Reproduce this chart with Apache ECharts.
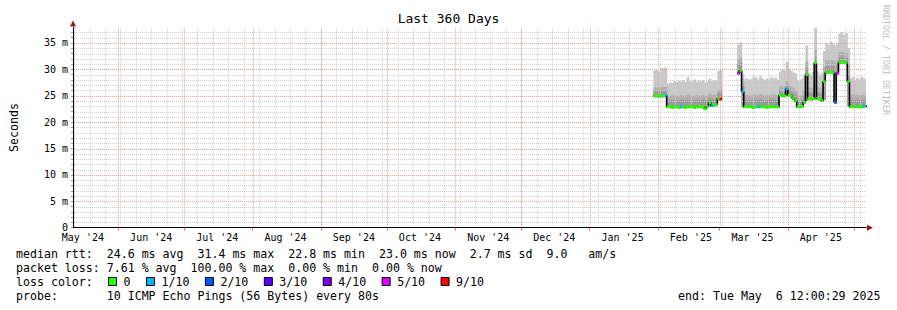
<!DOCTYPE html>
<html><head><meta charset="utf-8">
<script src="https://cdn.jsdelivr.net/npm/echarts@6/dist/echarts.min.js"></script>
<style>html,body{margin:0;padding:0;background:#fff}#c{width:897px;height:310px}</style>
</head><body><div id="c"></div>
<script>
// ---------------- data ----------------
const firstDay = '2025-01-30';          // one value per day from here
const median = [
 25.0,25.0,24.9,25.0,25.0,25.1,
 22.9,22.9,22.8,22.9,22.9,22.8,22.9,22.9,22.8,22.9,
 22.9,22.9,22.8,22.9,22.9,22.9,22.9,22.5,22.9,23.7,
 23.1,23.2,23.3,24.4,24.4,
 null,null,null,null,null,null,null,
 29.3,29.8,25.8,
 22.9,23.0,22.9,22.9,22.8,22.9,22.9,23.0,22.9,22.9,
 22.8,22.9,22.9,23.0,22.9,22.9,
 25.1,25.0,25.0,26.3,25.1,25.0,24.5,24.1,
 22.9,22.9,23.0,23.8,29.0,24.5,24.4,24.5,31.2,24.5,
 24.4,24.1,27.7,29.4,29.4,29.5,29.4,23.8,29.3,31.3,
 31.4,31.4,31.3,27.7,22.9,22.9,23.0,22.9,22.9,22.9,
 23.0,23.0
];
const lossTenths = [
 0,0,0,0,0,1,
 0,0,0,0,0,0,1,0,0,0,
 0,0,0,0,0,0,0,0,0,0,
 1,0,0,0,9,
 null,null,null,null,null,null,null,
 5,0,1,
 0,0,0,0,0,0,1,0,0,0,
 0,0,0,0,0,0,
 0,0,0,1,0,0,0,0,
 0,0,0,0,0,0,0,0,0,0,
 0,0,0,0,0,0,0,2,5,0,
 0,0,0,0,0,0,0,0,0,0,
 1,0
];
const smokeLo = [
 24.7,24.7,24.6,24.7,24.7,24.8,
 22.7,22.7,22.6,22.7,22.7,22.6,22.7,22.7,22.6,22.7,
 22.7,22.7,22.6,22.7,22.7,22.7,22.7,22.3,22.7,23.4,
 22.9,23.0,23.1,24.1,24.1,
 null,null,null,null,null,null,null,
 29.0,29.4,22.8,
 22.7,22.8,22.7,22.7,22.6,22.7,22.7,22.8,22.7,22.7,
 22.6,22.7,22.7,22.8,22.7,22.7,
 24.8,24.7,24.7,25.0,24.8,24.7,24.2,23.8,
 22.7,22.7,22.8,23.5,24.0,24.2,24.1,24.2,24.3,24.2,
 24.1,23.8,24.2,29.1,29.1,29.2,29.1,23.5,29.0,31.0,
 31.1,31.1,31.0,23.0,22.7,22.7,22.8,22.7,22.7,22.7,
 22.8,22.8
];
const smokeDark = [
 25.9,25.8,25.8,25.9,25.8,26.0,
 24.2,24.1,24.2,24.3,24.2,24.1,24.3,24.2,24.1,24.3,
 24.2,24.2,24.1,24.3,24.2,24.2,24.3,24.0,24.2,24.6,
 24.3,24.4,24.5,25.5,25.6,
 null,null,null,null,null,null,null,
 31.0,31.2,27.0,
 24.2,24.3,24.1,24.2,24.3,24.2,24.2,24.4,24.2,24.1,
 24.2,24.3,24.2,24.4,24.2,24.1,
 26.0,25.9,25.9,26.9,26.0,25.9,25.5,25.2,
 24.1,24.0,24.2,25.0,30.2,25.6,25.5,25.6,32.2,25.7,
 25.5,25.2,29.0,30.7,30.6,30.8,30.6,29.5,31.0,32.3,
 32.4,32.3,32.2,29.0,24.2,24.3,24.2,24.3,24.2,24.3,
 24.2,24.1
];
const smokeMid = [
 26.6,26.5,26.6,26.7,26.6,26.7,
 25.0,24.9,25.1,25.0,25.0,24.9,25.1,25.0,24.9,25.2,
 25.0,25.0,24.9,25.1,25.0,25.0,25.1,24.9,25.0,25.4,
 25.1,25.2,25.3,26.0,26.2,
 null,null,null,null,null,null,null,
 32.0,32.2,28.3,
 25.1,25.2,25.0,25.1,25.3,25.1,25.1,25.3,25.1,25.0,
 25.1,25.2,25.1,25.3,25.1,25.0,
 26.8,26.7,26.8,27.8,26.9,26.7,26.4,26.1,
 25.0,24.9,25.1,26.0,31.5,26.5,26.4,26.5,33.8,26.6,
 26.4,26.2,30.5,31.8,31.7,31.9,31.7,31.2,32.0,33.2,
 33.3,33.2,33.1,31.0,25.1,25.2,25.1,25.2,25.1,25.2,
 25.1,25.0
];
const smokeMax = [
 29.8,29.9,29.6,30.3,30.1,30.4,
 27.3,27.5,27.4,27.8,27.6,27.9,27.7,28.0,27.6,28.5,
 27.8,27.7,28.1,27.6,27.9,27.7,28.0,27.5,27.8,28.2,
 27.7,28.0,27.9,29.7,29.9,
 null,null,null,null,null,null,null,
 34.6,35.1,29.2,
 28.1,28.3,28.0,28.2,28.6,28.4,28.1,28.7,28.2,28.0,
 28.3,28.1,28.5,28.2,28.4,28.0,
 29.6,30.0,29.8,31.4,30.1,29.7,29.4,29.2,
 28.0,27.8,28.2,28.8,34.5,29.3,29.0,29.5,37.9,29.6,
 29.0,29.3,33.5,35.0,34.6,35.3,34.8,34.5,35.0,36.8,
 37.1,36.5,36.9,34.0,28.2,28.5,28.0,28.4,28.1,28.6,
 28.3,28.0
];
const monthLabels = ["May '24","Jun '24","Jul '24","Aug '24","Sep '24","Oct '24","Nov '24","Dec '24","Jan '25","Feb '25","Mar '25","Apr '25"];
const monthLabelDates = ['2024-05-16','2024-06-16','2024-07-16','2024-08-16','2024-09-16','2024-10-16','2024-11-16','2024-12-16','2025-01-16','2025-02-16','2025-03-16','2025-04-16'];
const yTickValues = [0,5,10,15,20,25,30,35];
const yTickLabels = ['0','5 m','10 m','15 m','20 m','25 m','30 m','35 m'];
const lossLabels = ['0','1/10','2/10','3/10','4/10','5/10','9/10'];
const lossLevels = [0,1,2,3,4,5,9];
const lossColors = ['#26ff00','#00b8ff','#0059ff','#5e00ff','#7e00ff','#dd00ff','#ff0000'];
const statLines = [
 'median rtt:  24.6 ms avg  31.4 ms max  22.8 ms min  23.0 ms now  2.7 ms sd  9.0   am/s',
 'packet loss: 7.61 % avg  100.00 % max  0.00 % min  0.00 % now',
 'loss color:',
 'probe:       10 ICMP Echo Pings (56 Bytes) every 80s'
];
const endText = 'end: Tue May  6 12:00:29 2025';
const titleText = 'Last 360 Days';
const yName = 'Seconds';
const creditText = 'RRDTOOL / TOBI OETIKER';

// ---------------- build ----------------
const DAY = 86400000;
const START = Date.UTC(2024,4,11,12,0,29);
const END = Date.UTC(2025,4,6,12,0,29);
const FIRST = new Date(firstDay+'T00:00:00Z').getTime();
const YMAX = 37.95;
const dayTs = k => FIRST + k*DAY;
const labelTs = monthLabelDates.map(s => new Date(s+'T00:00:00Z').getTime());
const monthStarts = [];
for (let i=1;i<=12;i++) monthStarts.push(Date.UTC(2024,4+i,1));
const weekLines = [];
for (let t=Date.UTC(2024,4,12); t<END; t+=7*DAY) weekLines.push(t);
const yMinorLines = [], yMajorLines = [];
for (let v=1; v<YMAX; v++) (v%5===0 ? yMajorLines : yMinorLines).push(v);

const FONT = '"DejaVu Sans Mono", monospace';
const nb = s => s.replace(/ /g,'\u00a0');
const MINOR = '#cfcfcf', MAJOR = '#eaa0a0';

function bandData(top){
  const d=[];
  for(let k=0;k<median.length;k++) if(median[k]!=null) d.push([dayTs(k), smokeLo[k], top[k]]);
  return d;
}
function rectItem(color){
  return function(params, api){
    const t=api.value(0), lo=api.value(1), hi=api.value(2);
    const p1=api.coord([t,hi]), p2=api.coord([t+DAY,lo]);
    return {type:'rect', shape:{x:p1[0], y:p1[1], width:p2[0]-p1[0]+0.6, height:p2[1]-p1[1]}, style:{fill:color}};
  };
}
const blackData=[];
for(let k=0;k<median.length;k++){
  if(median[k]==null) continue;
  blackData.push([dayTs(k), median[k]]);
  if(k===median.length-1 || median[k+1]==null){
    blackData.push([dayTs(k+1), median[k]]);
    blackData.push([dayTs(k+1)+1, null]);
  }
}
function vGridSeries(data, color){
  return {type:'custom', silent:true, z:3, data:data.map(t=>[t]), encode:{x:0},
    renderItem:function(params, api){
      const a=api.coord([api.value(0),0]), b=api.coord([api.value(0),YMAX]);
      const x=Math.round(a[0])+0.5;
      return {type:'line', shape:{x1:x,y1:a[1],x2:x,y2:b[1]}, style:{stroke:color, lineWidth:1, lineDash:[1,1]}};
    }};
}
function hGridSeries(data, color){
  return {type:'custom', silent:true, z:3, data:data.map(v=>[START, v]), encode:{x:0,y:1},
    renderItem:function(params, api){
      const a=api.coord([START, api.value(1)]), b=api.coord([END, api.value(1)]);
      const y=Math.round(a[1])+0.5;
      return {type:'line', shape:{x1:a[0]+1,y1:y,x2:b[0],y2:y}, style:{stroke:color, lineWidth:1, lineDash:[1,1]}};
    }};
}

const series = [
  {name:'smoke1', type:'custom', z:2, clip:true, silent:true, data:bandData(smokeMax), encode:{x:0,y:[1,2]}, renderItem:rectItem('#c8c8c8')},
  {name:'smoke2', type:'custom', z:2, clip:true, silent:true, data:bandData(smokeMid), encode:{x:0,y:[1,2]}, renderItem:rectItem('#b0b0b0')},
  {name:'smoke3', type:'custom', z:2, clip:true, silent:true, data:bandData(smokeDark), encode:{x:0,y:[1,2]}, renderItem:rectItem('#9a9a9a')},
  vGridSeries(weekLines, MINOR),
  hGridSeries(yMinorLines, MINOR),
  vGridSeries(monthStarts, MAJOR),
  hGridSeries(yMajorLines, MAJOR),
  {name:'median', type:'line', z:4, step:'end', symbol:'none', silent:true, data:blackData, connectNulls:false,
   lineStyle:{color:'#000', width:1.6}},
];
lossLabels.forEach((lab, i) => {
  const d=[];
  for(let k=0;k<median.length;k++) if(median[k]!=null && lossTenths[k]===lossLevels[i]) d.push([dayTs(k), median[k]]);
  series.push({name:lab, type:'custom', z:5, clip:true, silent:true, color:lossColors[i], itemStyle:{color:lossColors[i]},
    data:d, encode:{x:0,y:1},
    renderItem:function(params, api){
      const p1=api.coord([api.value(0), api.value(1)]), p2=api.coord([api.value(0)+DAY, api.value(1)]);
      return {type:'rect', shape:{x:p1[0], y:p1[1]-1.3, width:p2[0]-p1[0]+0.4, height:2.6}, style:{fill:lossColors[i]}};
    }});
});

const graphic = [];
statLines.forEach((s,i)=>{
  graphic.push({type:'text', silent:true, style:{text:nb(s), x:16, y:254.3+14*i, verticalAlign:'middle', align:'left', font:'11.6px '+FONT, fill:'#000'}});
});
graphic.push({type:'text', silent:true, style:{text:nb(endText), x:880.5, y:296.3, verticalAlign:'middle', align:'right', font:'11.6px '+FONT, fill:'#000'}});
graphic.push({type:'text', silent:true, x:886, y:60, rotation:-Math.PI/2, style:{text:creditText, align:'center', verticalAlign:'middle', font:'8.3px '+FONT, fill:'#c0c0c0'}});

const chart = echarts.init(document.getElementById('c'), null, {renderer:'svg'});
chart.setOption({
  animation:false,
  backgroundColor:'#fff',
  title:{text:titleText, left:'center', top:12, padding:0, textStyle:{fontFamily:FONT, fontSize:13, fontWeight:'normal', color:'#000'}},
  grid:{left:66, right:31, top:27.4, bottom:82.3, containLabel:false},
  legend:{data:lossLabels, left:108, top:275.5, padding:0, itemWidth:8, itemHeight:8, itemGap:15.5, icon:'rect', selectedMode:false,
    itemStyle:{borderColor:'#000', borderWidth:1},
    textStyle:{fontFamily:FONT, fontSize:11.6, color:'#000', padding:[0,0,0,2]}},
  xAxis:[
    {type:'value', min:START, max:END, z:6,
     axisLine:{show:true, onZero:false, lineStyle:{color:'#000', width:1}},
     axisTick:{show:true, customValues:monthStarts, length:3, lineStyle:{color:'#e07070'}},
     axisLabel:{customValues:labelTs, margin:5, fontFamily:FONT, fontSize:10, color:'#000',
       formatter:function(v){ const i=labelTs.indexOf(v); return i>=0?monthLabels[i]:''; }},
     splitLine:{show:false}},
    {type:'value', min:START, max:END, z:1, position:'bottom',
     axisLine:{show:true, onZero:false, symbol:['none','triangle'], symbolSize:[6,6], symbolOffset:[0,4], lineStyle:{color:'#8b1a1a', width:1}},
     axisTick:{show:false}, axisLabel:{show:false}, splitLine:{show:false}}
  ],
  yAxis:[
    {type:'value', min:0, max:YMAX, interval:1, z:6,
     name:yName, nameLocation:'middle', nameGap:53, nameRotate:90,
     nameTextStyle:{fontFamily:FONT, fontSize:11.6, color:'#000'},
     axisLine:{show:true, onZero:false, lineStyle:{color:'#000', width:1}},
     axisTick:{show:true, length:2, lineStyle:{color:'#999'}},
     axisLabel:{margin:5, fontFamily:FONT, fontSize:10, color:'#000', showMaxLabel:false,
       formatter:function(v){ const i=yTickValues.indexOf(Math.round(v*1000)/1000); return i>=0?yTickLabels[i]:''; }},
     splitLine:{show:false}},
    {type:'value', min:0, max:YMAX, z:1, position:'left',
     axisLine:{show:true, onZero:false, symbol:['none','triangle'], symbolSize:[6,6], symbolOffset:[0,4], lineStyle:{color:'#8b1a1a', width:1}},
     axisTick:{show:false}, axisLabel:{show:false}, splitLine:{show:false}}
  ],
  graphic:graphic,
  series:series
});
</script>
</body></html>
